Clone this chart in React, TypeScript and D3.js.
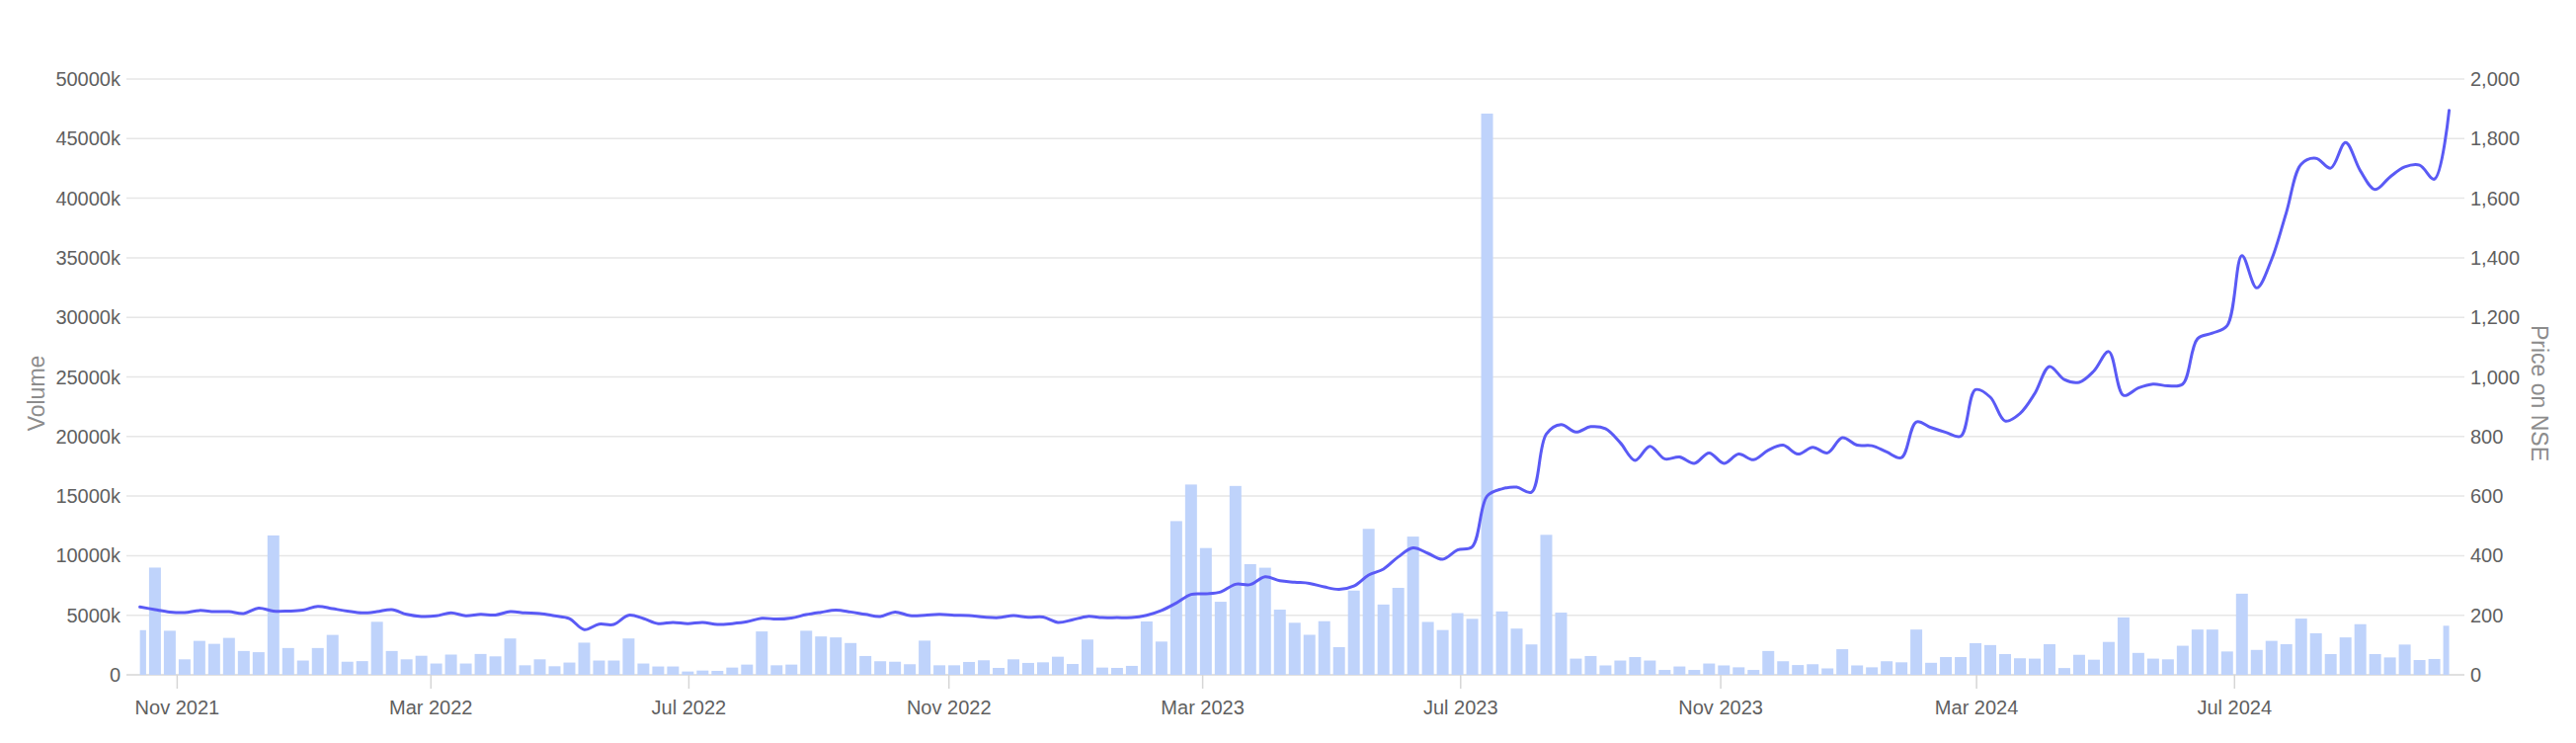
import React from "react";
import * as d3 from "d3";

// Weekly traded volume (thousands of shares), first and last weeks are partial
const VOLUME_K = [
  3750, 9000, 3700, 1300, 2850, 2600, 3100, 2000, 1900, 11700,
  2250, 1200, 2250, 3350, 1100, 1150, 4450, 2000, 1300, 1600,
  950, 1700, 950, 1750, 1550, 3050, 800, 1300, 720, 1030,
  2700, 1200, 1200, 3050, 950, 700, 700, 280, 360, 330,
  610, 860, 3640, 800, 860, 3700, 3220, 3140, 2670, 1580,
  1140, 1100, 890, 2870, 800, 800, 1080, 1220, 580, 1300,
  1000, 1050, 1520, 910, 2960, 610, 580, 750, 4480, 2790,
  12900, 15970, 10640, 6130, 15850, 9290, 8990, 5470, 4370, 3360,
  4500, 2320, 7070, 12250, 5900, 7300, 11600, 4440, 3760, 5180,
  4700, 47100, 5320, 3880, 2550, 11750, 5220, 1360, 1580, 790,
  1200, 1490, 1200, 410, 700, 410, 950, 790, 630, 410,
  2000, 1140, 820, 890, 540, 2150, 790, 630, 1140, 1050,
  3800, 1010, 1490, 1490, 2660, 2500, 1740, 1390, 1360, 2570,
  570, 1680, 1270, 2760, 4820, 1840, 1360, 1300, 2440, 3800,
  3800, 1960, 6810, 2090, 2850, 2570, 4720, 3490, 1740, 3140,
  4250, 1740, 1460, 2540, 1240, 1330, 4120,
];

// Price on NSE: first = data start, then weekly mid-points, last = data end
const PRICE = [
  228, 219, 211, 209, 216, 212, 212, 206, 224, 214,
  214, 217, 230, 222, 214, 208, 212, 219, 203, 196,
  198, 208, 198, 203, 201, 212, 208, 206, 198, 189,
  152, 170, 169, 200, 189, 172, 176, 172, 176, 169,
  172, 178, 190, 187, 191, 202, 210, 217, 211, 203,
  196, 211, 199, 200, 203, 200, 199, 194, 192, 199,
  193, 194, 176, 185, 196, 192, 192, 192, 200, 216,
  241, 270, 272, 278, 304, 303, 329, 316, 311, 307,
  295, 287, 298, 335, 355, 396, 426, 408, 388, 419,
  430, 600, 624, 630, 613, 808, 840, 815, 833, 826,
  779, 720, 767, 725, 731, 710, 745, 710, 741, 722,
  754, 771, 741, 764, 745, 796, 771, 769, 748, 729,
  849, 830, 814, 801, 957, 932, 852, 877, 944, 1035,
  991, 982, 1020, 1085, 938, 963, 976, 970, 976, 1128,
  1147, 1172, 1407, 1299, 1394, 1552, 1714, 1734, 1701, 1787,
  1692, 1629, 1671, 1705, 1711, 1664, 1895,
];

const VOLUME_TICKS = [0, 5000, 10000, 15000, 20000, 25000, 30000, 35000, 40000, 45000, 50000];
const PRICE_TICKS = [0, 200, 400, 600, 800, 1000, 1200, 1400, 1600, 1800, 2000];

const DOMAIN_START = new Date(2021, 9, 8);
const DOMAIN_END = new Date(2024, 9, 17, 17);
const DATA_START = new Date(2021, 9, 14, 9);
const DATA_END = new Date(2024, 9, 10, 12);
const FIRST_MONDAY = new Date(2021, 9, 11);

const W = 2608;
const H = 752;
const LEFT = 128;
const RIGHT = 2495;
const TOP = 80;
const BOTTOM = 683;

const FONT = "'Liberation Sans', Arial, Helvetica, sans-serif";
const BAR_COLOR = "#bfd3fb";
const LINE_COLOR = "#5a5af5";

export default function App() {
  const x = d3.scaleTime().domain([DOMAIN_START, DOMAIN_END]).range([LEFT, RIGHT]);
  const yV = d3.scaleLinear().domain([0, 50000]).range([BOTTOM, TOP]);
  const yP = d3.scaleLinear().domain([0, 2000]).range([BOTTOM, TOP]);

  const inset = 1.5;
  const bars = VOLUME_K.map((v, k) => {
    const s = d3.timeMonday.offset(FIRST_MONDAY, k);
    const e = d3.timeMonday.offset(FIRST_MONDAY, k + 1);
    const x0 = s < DATA_START ? x(DATA_START) : x(s) + inset;
    const x1 = e > DATA_END ? x(DATA_END) : x(e) - inset;
    return { x0, x1, v };
  });

  const priceDates = PRICE.map((_, k) => {
    if (k === 0) return DATA_START;
    if (k === PRICE.length - 1) return DATA_END;
    const s = d3.timeMonday.offset(FIRST_MONDAY, k);
    return d3.timeHour.offset(s, 84);
  });
  const line = d3
    .line<number>()
    .x((_, i) => x(priceDates[i]))
    .y((d) => yP(d))
    .curve(d3.curveCatmullRom.alpha(0.5));

  const monthTicks = d3.timeMonth
    .range(DOMAIN_START, DOMAIN_END)
    .filter((d) => d.getMonth() % 4 === 2);
  const fmtMonth = d3.timeFormat("%b %Y");
  const fmtVol = (v: number) => (v === 0 ? "0" : `${v}k`);
  const fmtPrice = d3.format(",");

  return (
    <svg
      width={W}
      height={H}
      style={{ position: "absolute", left: 0, top: 0, background: "#fff" }}
      fontFamily={FONT}
    >
      {VOLUME_TICKS.map((t) => (
        <line
          key={"g" + t}
          x1={LEFT}
          x2={RIGHT}
          y1={yV(t)}
          y2={yV(t)}
          stroke={t === 0 ? "#d6d6d6" : "#e6e6e6"}
          strokeWidth={1.5}
        />
      ))}
      {monthTicks.map((d) => (
        <line
          key={"t" + +d}
          x1={x(d)}
          x2={x(d)}
          y1={BOTTOM}
          y2={BOTTOM + 14}
          stroke="#d6d6d6"
          strokeWidth={1.5}
        />
      ))}
      {bars.map((b, i) => (
        <rect
          key={"b" + i}
          x={b.x0}
          width={Math.max(0, b.x1 - b.x0)}
          y={yV(b.v)}
          height={BOTTOM - yV(b.v)}
          fill={BAR_COLOR}
        />
      ))}
      <path d={line(PRICE) || ""} fill="none" stroke={LINE_COLOR} strokeWidth={3} strokeLinejoin="round" strokeLinecap="round" />
      {VOLUME_TICKS.map((t) => (
        <text
          key={"lv" + t}
          x={122}
          y={yV(t)}
          dy="0.35em"
          textAnchor="end"
          fontSize={20}
          fill="#5f5f5f"
        >
          {fmtVol(t)}
        </text>
      ))}
      {PRICE_TICKS.map((t) => (
        <text
          key={"lp" + t}
          x={2501}
          y={yP(t)}
          dy="0.35em"
          textAnchor="start"
          fontSize={20}
          fill="#5f5f5f"
        >
          {fmtPrice(t)}
        </text>
      ))}
      {monthTicks.map((d) => (
        <text
          key={"lx" + +d}
          x={x(d)}
          y={723}
          textAnchor="middle"
          fontSize={20}
          fill="#5f5f5f"
        >
          {fmtMonth(d)}
        </text>
      ))}
      <text
        transform="translate(37,398) rotate(-90)"
        textAnchor="middle"
        dy="0.35em"
        fontSize={23}
        fill="#8c8c8c"
      >
        Volume
      </text>
      <text
        transform="translate(2571,398) rotate(90)"
        textAnchor="middle"
        dy="0.35em"
        fontSize={23}
        fill="#8c8c8c"
      >
        Price on NSE
      </text>
    </svg>
  );
}
